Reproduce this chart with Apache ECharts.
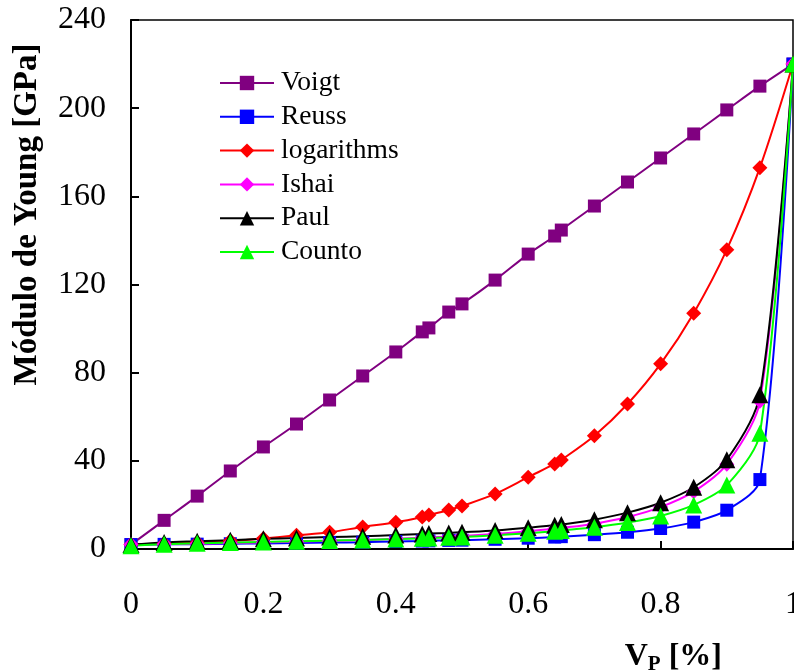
<!DOCTYPE html>
<html>
<head>
<meta charset="utf-8">
<script src="https://cdn.jsdelivr.net/npm/echarts@6/dist/echarts.min.js"></script>
<style>html,body{margin:0;padding:0;background:#fff}#c{width:794px;height:672px}</style>
</head>
<body>
<div id="c"></div>
<script>
const vp = [0, 0.05, 0.1, 0.15, 0.2, 0.25, 0.3, 0.35, 0.4, 0.44, 0.45, 0.48, 0.5, 0.55, 0.6, 0.64, 0.65, 0.7, 0.75, 0.8, 0.85, 0.9, 0.95, 1];
const voigt = [2, 13, 24, 35.4, 46.3, 56.7, 67.6, 78.5, 89.4, 98.5, 100.3, 107.5, 111.2, 122, 133.8, 142, 144.7, 155.6, 166.5, 177.4, 188.3, 199.2, 210, 220];
const reuss = [2.0, 2.1, 2.2, 2.4, 2.5, 2.7, 2.9, 3.1, 3.4, 3.6, 3.7, 3.9, 4.0, 4.4, 4.9, 5.4, 5.6, 6.5, 7.6, 9.3, 12.2, 17.6, 31.5, 220];
const logarithms = [2, 2.5, 3, 3.7, 4.8, 6.2, 7.6, 10, 12.1, 14.5, 15.4, 17.7, 19.5, 25, 32.6, 38.6, 40.4, 51.4, 65.8, 84, 107, 135.8, 173, 220];
const ishai = [2, 2.2, 2.4, 2.7, 3.0, 3.3, 3.7, 4.1, 4.6, 5.1, 5.2, 5.6, 5.9, 6.8, 8, 9.2, 9.5, 11.5, 14.5, 19, 26, 38.5, 67, 220];
const paul = [2, 3, 3.5, 4, 4.6, 5, 5.4, 5.8, 6.3, 6.8, 7, 7.3, 7.6, 8.4, 9.6, 10.8, 11.1, 13.3, 16.5, 21, 28, 40.5, 70, 220];
const counto = [1.5, 2.2, 2.6, 2.9, 3.2, 3.5, 3.8, 4.1, 4.5, 4.9, 5.0, 5.3, 5.5, 6.2, 7.2, 8.1, 8.4, 9.9, 12, 15, 20, 29, 52.5, 220];
const names = ['Voigt', 'Reuss', 'logarithms', 'Ishai', 'Paul', 'Counto'];
const colors = ['#800080', '#0000FF', '#FF0000', '#FF00FF', '#000000', '#00FF00'];
const symbols = ['rect', 'rect', 'diamond', 'diamond', 'triangle', 'triangle'];
const sizes = [13, 13, 15, 15, 17, 17];
const values = [voigt, reuss, logarithms, ishai, paul, counto];

const font = '"Liberation Serif", "Times New Roman", serif';
const chart = echarts.init(document.getElementById('c'), null, {renderer: 'canvas'});
chart.setOption({
  animation: false,
  backgroundColor: '#fff',
  textStyle: {fontFamily: font},
  grid: {left: 131, right: 1, top: 20, bottom: 123, show: true, borderColor: '#000', borderWidth: 1.5, containLabel: false, outerBoundsMode: 'none'},
  legend: {
    orient: 'vertical', left: 214, top: 64,
    itemWidth: 54, itemHeight: 18, itemGap: 5.8,
    textStyle: {fontFamily: font, fontSize: 27.5, color: '#000', lineHeight: 27, padding: [0, 0, 0, 2]},
    data: names
  },
  xAxis: {
    type: 'value', min: 0, max: 1, interval: 0.2,
    name: '{b|V}{s|P}{b| [%]}', nameLocation: 'end',
    nameGap: 0,
    nameTextStyle: {
      align: 'right', verticalAlign: 'top', padding: [90, 71, 0, 0],
      rich: {
        b: {fontFamily: font, fontSize: 32, fontWeight: 'bold', color: '#000'},
        s: {fontFamily: font, fontSize: 21, fontWeight: 'bold', color: '#000', verticalAlign: 'bottom', padding: [15, 0, 0, 0]}
      }
    },
    axisLine: {lineStyle: {color: '#000', width: 2}},
    axisTick: {inside: true, length: 8, lineStyle: {color: '#000', width: 2}},
    axisLabel: {fontFamily: font, fontSize: 32, color: '#000', margin: 40},
    splitLine: {show: false}
  },
  yAxis: {
    type: 'value', min: 0, max: 240, interval: 40,
    name: 'Módulo de Young [GPa]', nameLocation: 'middle', nameGap: 87,
    nameTextStyle: {fontFamily: font, fontSize: 33, fontWeight: 'bold', color: '#000', padding: [0, 0, 0, 140]},
    axisLine: {lineStyle: {color: '#000', width: 2}},
    axisTick: {inside: true, length: 8, lineStyle: {color: '#000', width: 2}},
    axisLabel: {fontFamily: font, fontSize: 32, color: '#000', margin: 25},
    splitLine: {show: false}
  },
  series: names.map((n, i) => ({
    name: n, type: 'line', smooth: 0.3,
    data: vp.map((x, j) => [x, values[i][j]]),
    symbol: symbols[i], symbolSize: sizes[i], showAllSymbol: true,
    itemStyle: {color: colors[i]},
    lineStyle: {color: colors[i], width: 2},
    clip: false
  }))
});
</script>
</body>
</html>
